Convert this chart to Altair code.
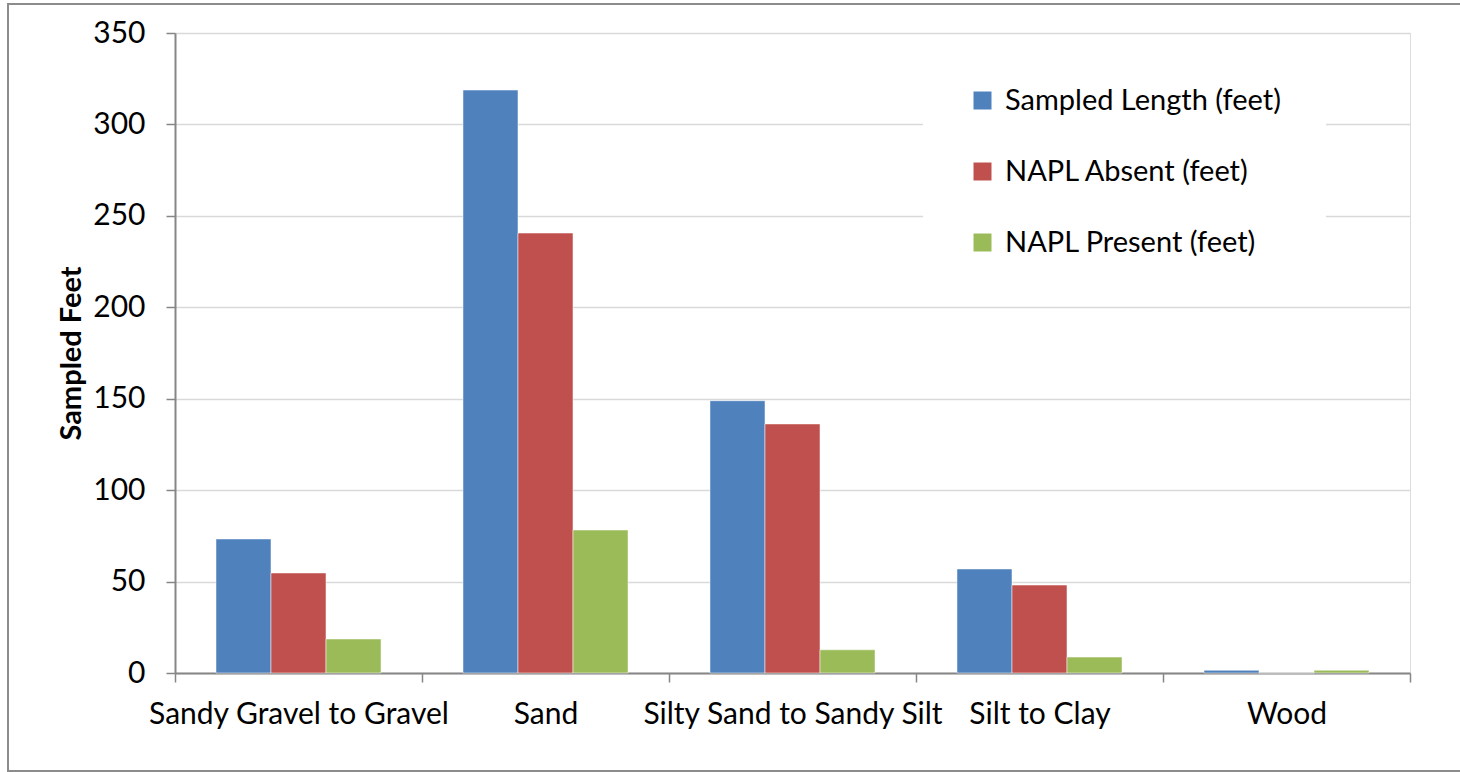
import altair as alt
import pandas as pd

# Sampled footage by lithology
categories = ["Sandy Gravel to Gravel", "Sand", "Silty Sand to Sandy Silt", "Silt to Clay", "Wood"]
series = ["Sampled Length (feet)", "NAPL Absent (feet)", "NAPL Present (feet)"]
sampled_length = [73.3, 318.8, 148.9, 56.9, 1.5]
napl_absent = [54.7, 240.6, 136.2, 48.1, 0.0]
napl_present = [18.6, 78.2, 12.7, 8.7, 1.5]
colors = ["#4F81BD", "#C0504D", "#9BBB59"]
y_ticks = [0, 50, 100, 150, 200, 250, 300, 350]

rows = []
for name, vals in zip(series, [sampled_length, napl_absent, napl_present]):
    for cat, v in zip(categories, vals):
        rows.append({"Lithology": cat, "Series": name, "Feet": v})
df = pd.DataFrame(rows)

FONT = "Lato"
FS = 30
W, H = 1235, 640

bars = alt.Chart(df).mark_bar(
    stroke="white", strokeOpacity=0.5, strokeWidth=1
).encode(
    x=alt.X(
        "Lithology:N",
        sort=categories,
        scale=alt.Scale(paddingInner=0, paddingOuter=0),
        axis=alt.Axis(
            title=None,
            labelAngle=0,
            labelFontSize=FS,
            labelFont=FONT,
            labelColor="black",
            labelPadding=17,
            labelLimit=500,
            tickBand="extent",
            tickSize=9,
            tickColor="#868686",
            tickWidth=1.5,
            domainColor="#868686",
            domainWidth=2,
            grid=False,
        ),
    ),
    xOffset=alt.XOffset(
        "Series:N",
        sort=series,
        scale=alt.Scale(paddingInner=0, paddingOuter=0.745),
    ),
    y=alt.Y(
        "Feet:Q",
        scale=alt.Scale(domain=[0, 350], nice=False),
        axis=alt.Axis(
            title="Sampled Feet",
            titleFont=FONT,
            titleFontSize=29,
            titleFontWeight="bold",
            titleColor="black",
            titlePadding=6,
            values=y_ticks,
            labelFontSize=FS,
            labelFont=FONT,
            labelColor="black",
            labelPadding=21,
            tickSize=9,
            tickColor="#868686",
            tickWidth=1.5,
            domainColor="#868686",
            domainWidth=2,
            gridColor="#D9D9D9",
            gridWidth=1.5,
        ),
    ),
    color=alt.Color(
        "Series:N",
        sort=series,
        scale=alt.Scale(domain=series, range=colors),
        legend=alt.Legend(
            title=None,
            orient="none",
            legendX=748,
            legendY=8,
            fillColor="white",
            padding=45,
            symbolType="square",
            symbolSize=324,
            symbolStrokeWidth=0,
            labelFont=FONT,
            labelFontSize=29,
            labelColor="black",
            labelOffset=8,
            rowPadding=41,
            labelLimit=500,
        ),
    ),
)

# Outer frame around the whole figure
frame = alt.Chart(alt.Data(values=[{}])).mark_rect(
    fill=None, stroke="#8C8C8C", strokeWidth=2
).encode(
    x=alt.value(-167), x2=alt.value(1300),
    y=alt.value(-29), y2=alt.value(738),
)

chart = alt.layer(bars, frame).properties(
    width=W,
    height=H,
    autosize=alt.AutoSizeParams(type="none"),
    padding={"left": 175, "top": 33, "right": 50, "bottom": 99},
).configure_view(
    stroke="black", strokeWidth=1.5
).configure(background="white")

chart.save("out.html", embed_options={"renderer": "svg", "actions": False})
